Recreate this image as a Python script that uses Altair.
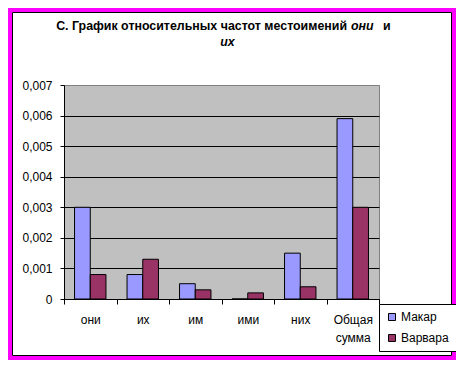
import altair as alt
import pandas as pd

categories = ["они", "их", "им", "ими", "них", "Общая сумма"]
series = ["Макар", "Варвара"]
makar = [0.003, 0.0008, 0.0005, 0.0, 0.0015, 0.0059]
varvara = [0.0008, 0.0013, 0.0003, 0.0002, 0.0004, 0.003]
y_ticks = [0, 0.001, 0.002, 0.003, 0.004, 0.005, 0.006, 0.007]
colors = ["#9999FF", "#993366"]

rows = []
for c, m, v in zip(categories, makar, varvara):
    rows.append({"cat": c, "series": "Макар", "value": m})
    rows.append({"cat": c, "series": "Варвара", "value": v})
df = pd.DataFrame(rows)

FONT = "Liberation Sans"

bars = alt.Chart(df).mark_bar(stroke="black", strokeWidth=1).encode(
    x=alt.X("cat:N", sort=categories, title=None,
            scale=alt.Scale(paddingInner=0, paddingOuter=0),
            axis=alt.Axis(labelAngle=0, tickBand="extent", tickSize=5, labelPadding=10,
                          labelFontSize=12, labelFont=FONT, labelColor="black",
                          domainColor="black", tickColor="black", grid=False,
                          labelBaseline="top", labelLineHeight=18, labelOverlap=False,
                          labelExpr="datum.value == 'Общая сумма' ? ['Общая', 'сумма'] : datum.value")),
    xOffset=alt.XOffset("series:N", sort=series,
                        scale=alt.Scale(domain=series, paddingOuter=0.67, paddingInner=0)),
    y=alt.Y("value:Q", title=None,
            scale=alt.Scale(domain=[0, 0.007], nice=False),
            axis=alt.Axis(values=y_ticks, tickSize=4, labelPadding=8, labelFontSize=12,
                          labelFont=FONT, labelColor="black", domainColor="black",
                          tickColor="black", grid=True,
                          gridColor={"condition": {"test": "datum.value >= 0.0069", "value": "#808080"},
                                     "value": "#000000"},
                          labelExpr="datum.value == 0 ? '0' : replace(format(datum.value, '.3f'), '.', ',')")),
    color=alt.Color("series:N", sort=series, title=None,
                    scale=alt.Scale(domain=series, range=colors),
                    legend=alt.Legend(orient="none", legendX=315, legendY=219,
                                      fillColor="white", strokeColor="black", padding=7,
                                      labelFontSize=12, labelFont=FONT, labelColor="black",
                                      symbolType="square", symbolSize=49,
                                      symbolStrokeColor="black", symbolStrokeWidth=1,
                                      rowPadding=9, labelOffset=3, cornerRadius=0)),
)

one = alt.Data(values=[{"k": 1}])

frame_m = alt.Chart(one).mark_rect(fill="transparent", stroke="#FF00FF", strokeWidth=4).encode(
    x=alt.value(-54), x2=alt.value(390), y=alt.value(-75), y2=alt.value(273))
frame_b = alt.Chart(one).mark_rect(fill="transparent", stroke="black", strokeWidth=1).encode(
    x=alt.value(-51.5), x2=alt.value(387.5), y=alt.value(-72.5), y2=alt.value(270.5))

title_kw = dict(font=FONT, fontSize=12.4, fontWeight="bold", color="black", baseline="alphabetic")
t1 = alt.Chart(one).mark_text(text="С. График относительных частот местоимений", align="right", **title_kw).encode(
    x=alt.value(283), y=alt.value(-55))
t2 = alt.Chart(one).mark_text(text="они", align="left", fontStyle="italic", **title_kw).encode(
    x=alt.value(287), y=alt.value(-55))
t3 = alt.Chart(one).mark_text(text="и", align="left", **title_kw).encode(
    x=alt.value(319), y=alt.value(-55))
t4 = alt.Chart(one).mark_text(text="их", align="center", fontStyle="italic", **title_kw).encode(
    x=alt.value(163.5), y=alt.value(-39.5))

chart = alt.layer(frame_m, frame_b, t1, t2, t3, t4, bars).properties(
    width=315, height=214,
    padding={"left": 56, "top": 77, "right": 77, "bottom": 61},
    autosize="none",
    background="white",
).configure_view(fill="#C0C0C0", stroke="#808080", strokeWidth=1)

chart.save("out.html", embed_options={"renderer": "svg", "actions": False})
